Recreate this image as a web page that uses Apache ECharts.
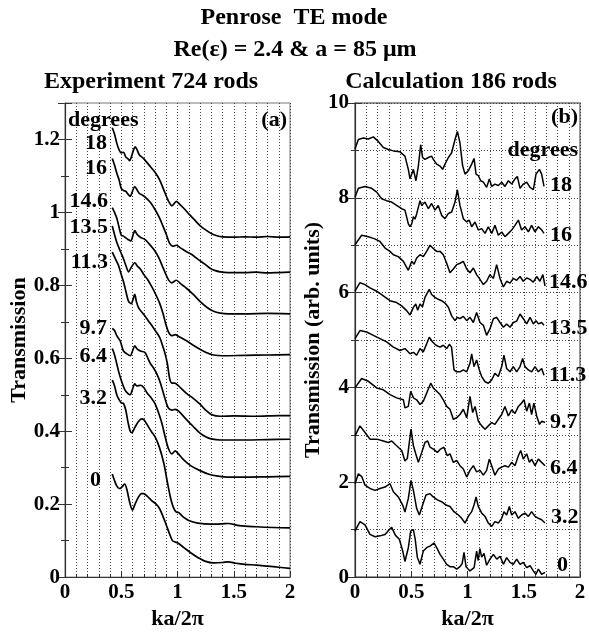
<!DOCTYPE html>
<html>
<head>
<meta charset="utf-8">
<script src="https://cdn.jsdelivr.net/npm/echarts@6/dist/echarts.min.js"></script>
<style>html,body{margin:0;padding:0;background:#fff}#c{width:589px;height:635px}</style>
</head>
<body>
<div id="c"></div>
<script>
// ---- Data ----
const angleLabels = ['18', '16', '14.6', '13.5', '11.3', '9.7', '6.4', '3.2', '0'];

// Panel (a): Experiment 724 rods  [ka/2pi, transmission]
const expDeg18 = [[0.42,1.232],[0.44,1.215],[0.46,1.19],[0.48,1.172],[0.50,1.163],[0.52,1.165],[0.54,1.152],[0.56,1.147],[0.575,1.142],[0.59,1.152],[0.61,1.172],[0.625,1.18],[0.64,1.172],[0.66,1.158],[0.69,1.15],[0.72,1.14],[0.76,1.125],[0.80,1.11],[0.84,1.09],[0.87,1.068],[0.90,1.045],[0.925,1.028],[0.95,1.018],[0.97,1.024],[0.99,1.03],[1.02,1.022],[1.06,1.01],[1.10,0.996],[1.15,0.98],[1.20,0.964],[1.25,0.952],[1.30,0.942],[1.35,0.936],[1.40,0.933],[1.5,0.932],[1.6,0.933],[1.7,0.932],[1.8,0.934],[1.9,0.932],[2.0,0.933]];
const expDeg16 = [[0.42,1.148],[0.44,1.13],[0.46,1.108],[0.48,1.09],[0.50,1.066],[0.52,1.06],[0.54,1.058],[0.56,1.05],[0.58,1.044],[0.60,1.058],[0.62,1.071],[0.64,1.062],[0.66,1.052],[0.69,1.047],[0.72,1.04],[0.76,1.027],[0.80,1.008],[0.84,0.985],[0.87,0.963],[0.90,0.94],[0.93,0.915],[0.96,0.907],[0.99,0.91],[1.03,0.902],[1.08,0.892],[1.13,0.884],[1.18,0.872],[1.24,0.859],[1.29,0.847],[1.33,0.841],[1.38,0.837],[1.45,0.835],[1.6,0.835],[1.7,0.836],[1.8,0.834],[1.9,0.835],[2.0,0.836]];
const expDeg146 = [[0.42,1.013],[0.44,1.0],[0.46,0.985],[0.48,0.96],[0.50,0.938],[0.52,0.935],[0.54,0.93],[0.56,0.926],[0.585,0.922],[0.605,0.938],[0.62,0.95],[0.64,0.94],[0.67,0.932],[0.71,0.926],[0.75,0.913],[0.79,0.898],[0.83,0.878],[0.86,0.857],[0.89,0.835],[0.92,0.815],[0.95,0.807],[0.99,0.814],[1.03,0.804],[1.08,0.792],[1.14,0.775],[1.2,0.756],[1.26,0.74],[1.32,0.729],[1.38,0.724],[1.45,0.722],[1.6,0.722],[1.8,0.723],[2.0,0.722]];
const expDeg135 = [[0.42,0.963],[0.44,0.94],[0.46,0.918],[0.49,0.895],[0.52,0.873],[0.54,0.855],[0.565,0.837],[0.59,0.85],[0.62,0.862],[0.645,0.852],[0.67,0.845],[0.70,0.83],[0.73,0.818],[0.77,0.797],[0.80,0.779],[0.84,0.752],[0.87,0.724],[0.895,0.695],[0.92,0.672],[0.95,0.662],[0.98,0.665],[1.01,0.66],[1.08,0.648],[1.14,0.636],[1.2,0.625],[1.26,0.615],[1.32,0.609],[1.4,0.607],[1.6,0.608],[1.8,0.609],[2.0,0.61]];
const expDeg113 = [[0.42,0.891],[0.44,0.878],[0.46,0.865],[0.475,0.855],[0.50,0.83],[0.52,0.81],[0.54,0.785],[0.565,0.756],[0.59,0.75],[0.605,0.762],[0.62,0.775],[0.635,0.755],[0.655,0.738],[0.70,0.72],[0.74,0.703],[0.785,0.684],[0.82,0.668],[0.845,0.655],[0.87,0.632],[0.89,0.612],[0.91,0.585],[0.93,0.545],[0.95,0.532],[0.975,0.532],[1.0,0.527],[1.08,0.504],[1.14,0.49],[1.2,0.474],[1.25,0.458],[1.3,0.446],[1.38,0.441],[1.5,0.442],[1.7,0.441],[1.9,0.443],[2.0,0.443]];
const expDeg97 = [[0.42,0.682],[0.44,0.676],[0.46,0.662],[0.49,0.648],[0.52,0.62],[0.55,0.612],[0.58,0.607],[0.60,0.62],[0.62,0.634],[0.64,0.626],[0.67,0.62],[0.71,0.616],[0.74,0.598],[0.76,0.585],[0.79,0.572],[0.815,0.558],[0.845,0.535],[0.875,0.504],[0.90,0.478],[0.92,0.463],[0.95,0.458],[0.98,0.46],[1.01,0.455],[1.08,0.432],[1.14,0.413],[1.2,0.395],[1.25,0.385],[1.3,0.379],[1.38,0.376],[1.6,0.376],[1.8,0.377],[2.0,0.378]];
const expDeg64 = [[0.42,0.627],[0.44,0.61],[0.46,0.585],[0.48,0.56],[0.50,0.54],[0.53,0.515],[0.56,0.503],[0.58,0.5],[0.60,0.515],[0.62,0.53],[0.64,0.524],[0.67,0.526],[0.70,0.52],[0.73,0.505],[0.77,0.49],[0.80,0.476],[0.83,0.452],[0.86,0.423],[0.89,0.385],[0.92,0.352],[0.95,0.338],[0.98,0.346],[1.01,0.337],[1.06,0.32],[1.12,0.305],[1.2,0.292],[1.28,0.282],[1.36,0.277],[1.45,0.274],[1.6,0.274],[1.8,0.275],[2.0,0.276]];
const expDeg32 = [[0.42,0.54],[0.44,0.525],[0.46,0.5],[0.48,0.487],[0.50,0.478],[0.52,0.476],[0.54,0.458],[0.56,0.425],[0.58,0.4],[0.595,0.396],[0.62,0.41],[0.65,0.425],[0.68,0.434],[0.70,0.432],[0.73,0.418],[0.77,0.398],[0.80,0.385],[0.84,0.355],[0.88,0.31],[0.91,0.26],[0.94,0.215],[0.965,0.19],[0.99,0.178],[1.01,0.177],[1.05,0.165],[1.1,0.155],[1.18,0.148],[1.3,0.145],[1.4,0.146],[1.45,0.147],[1.55,0.141],[1.7,0.138],[1.85,0.136],[2.0,0.135]];
const expDeg0 = [[0.42,0.283],[0.44,0.265],[0.46,0.25],[0.48,0.243],[0.50,0.245],[0.53,0.255],[0.55,0.24],[0.575,0.205],[0.60,0.184],[0.62,0.198],[0.65,0.218],[0.68,0.229],[0.70,0.229],[0.73,0.222],[0.77,0.21],[0.81,0.2],[0.84,0.188],[0.87,0.167],[0.90,0.143],[0.93,0.118],[0.955,0.1],[0.98,0.096],[1.0,0.094],[1.06,0.08],[1.12,0.066],[1.18,0.054],[1.25,0.043],[1.32,0.039],[1.4,0.04],[1.45,0.042],[1.52,0.038],[1.6,0.035],[1.7,0.033],[1.8,0.03],[1.9,0.027],[2.0,0.024]];

// Panel (b): Calculation 186 rods (curves offset vertically)  [ka/2pi, transmission]
const calcDeg18 = [[0,9.03],[0.03,9.23],[0.074,9.26],[0.119,9.24],[0.163,9.285],[0.207,9.19],[0.252,9.06],[0.296,9.02],[0.341,8.99],[0.4,8.97],[0.444,8.88],[0.474,8.6],[0.489,8.4],[0.504,8.43],[0.519,8.6],[0.542,8.36],[0.563,8.67],[0.584,9.12],[0.601,8.85],[0.622,8.81],[0.652,8.85],[0.681,8.88],[0.696,8.81],[0.726,8.71],[0.756,8.67],[0.779,8.6],[0.8,8.71],[0.83,8.85],[0.859,8.95],[0.889,9.23],[0.91,9.4],[0.933,9.16],[0.957,8.67],[0.978,8.5],[1.007,8.57],[1.037,8.71],[1.058,8.83],[1.076,8.5],[1.096,8.47],[1.117,8.36],[1.141,8.33],[1.17,8.22],[1.194,8.4],[1.215,8.24],[1.244,8.29],[1.274,8.26],[1.304,8.33],[1.333,8.24],[1.363,8.36],[1.393,8.29],[1.422,8.4],[1.443,8.45],[1.467,8.2],[1.496,8.29],[1.526,8.33],[1.556,8.22],[1.585,8.17],[1.609,8.5],[1.639,8.6],[1.659,8.5],[1.68,8.24]];
const calcDeg16 = [[0,8.01],[0.03,8.2],[0.089,8.24],[0.148,8.2],[0.193,8.12],[0.237,7.98],[0.281,7.94],[0.326,7.91],[0.37,7.84],[0.415,7.77],[0.444,7.74],[0.474,7.45],[0.489,7.39],[0.504,7.45],[0.519,7.6],[0.533,7.55],[0.548,7.66],[0.578,7.94],[0.593,7.84],[0.622,7.91],[0.652,7.77],[0.681,7.88],[0.711,7.74],[0.74,7.84],[0.77,7.63],[0.8,7.56],[0.83,7.67],[0.859,7.7],[0.889,7.91],[0.91,8.17],[0.933,7.84],[0.963,7.56],[0.993,7.49],[1.015,7.53],[1.037,7.39],[1.067,7.49],[1.096,7.32],[1.126,7.35],[1.156,7.25],[1.185,7.39],[1.215,7.25],[1.244,7.42],[1.274,7.21],[1.304,7.28],[1.333,7.18],[1.363,7.25],[1.393,7.32],[1.422,7.42],[1.452,7.53],[1.481,7.32],[1.511,7.39],[1.541,7.28],[1.57,7.42],[1.6,7.28],[1.63,7.39],[1.66,7.32],[1.68,7.25]];
const calcDeg146 = [[0,7.01],[0.059,7.21],[0.119,7.18],[0.17,7.14],[0.222,7.08],[0.267,6.94],[0.311,6.87],[0.341,6.8],[0.385,6.76],[0.43,6.66],[0.474,6.47],[0.504,6.66],[0.525,6.6],[0.548,6.73],[0.578,6.8],[0.607,6.76],[0.637,6.87],[0.667,7.0],[0.696,6.93],[0.726,6.87],[0.756,6.87],[0.785,6.8],[0.815,6.62],[0.844,6.42],[0.874,6.5],[0.904,6.59],[0.933,6.62],[0.963,6.66],[0.993,6.5],[1.022,6.42],[1.052,6.52],[1.081,6.38],[1.111,6.28],[1.141,6.17],[1.17,6.24],[1.2,6.38],[1.23,6.3],[1.259,6.59],[1.289,6.3],[1.319,6.12],[1.348,6.24],[1.378,6.2],[1.407,6.3],[1.437,6.26],[1.467,6.34],[1.496,6.24],[1.526,6.31],[1.556,6.28],[1.585,6.22],[1.615,6.34],[1.644,6.24],[1.67,6.38],[1.689,6.14]];
const calcDeg135 = [[0,6.03],[0.044,6.21],[0.089,6.17],[0.133,6.1],[0.193,6.03],[0.252,5.93],[0.311,5.83],[0.37,5.79],[0.415,5.72],[0.459,5.62],[0.489,5.53],[0.519,5.69],[0.54,5.76],[0.557,5.63],[0.578,5.76],[0.6,5.7],[0.622,5.9],[0.66,6.07],[0.681,5.96],[0.711,5.9],[0.74,5.86],[0.77,5.83],[0.8,5.78],[0.83,5.69],[0.859,5.51],[0.889,5.41],[0.91,5.48],[0.933,5.45],[0.963,5.5],[0.993,5.41],[1.022,5.48],[1.052,5.37],[1.081,5.58],[1.111,5.37],[1.141,5.31],[1.17,5.1],[1.2,5.24],[1.23,5.45],[1.259,5.48],[1.289,5.37],[1.319,5.27],[1.348,5.34],[1.378,5.27],[1.407,5.37],[1.437,5.4],[1.467,5.55],[1.496,5.45],[1.526,5.34],[1.556,5.48],[1.585,5.34],[1.609,5.41],[1.63,5.34],[1.659,5.37],[1.68,5.31]];
const calcDeg113 = [[0,5.03],[0.044,5.2],[0.104,5.17],[0.163,5.1],[0.222,5.03],[0.281,4.96],[0.341,4.85],[0.4,4.78],[0.444,4.82],[0.489,4.71],[0.52,4.74],[0.548,4.68],[0.578,4.82],[0.607,4.75],[0.637,4.92],[0.66,5.06],[0.69,4.96],[0.72,4.89],[0.756,4.85],[0.785,4.89],[0.815,4.82],[0.839,4.91],[0.858,4.85],[0.88,4.37],[0.904,4.33],[0.933,4.33],[0.963,4.37],[0.993,4.33],[1.022,4.51],[1.037,4.71],[1.058,4.44],[1.081,4.58],[1.105,4.37],[1.126,4.23],[1.156,4.12],[1.185,4.09],[1.215,4.16],[1.244,4.3],[1.274,4.23],[1.304,4.44],[1.324,4.68],[1.348,4.4],[1.378,4.33],[1.407,4.44],[1.437,4.33],[1.467,4.44],[1.49,4.61],[1.511,4.44],[1.541,4.37],[1.57,4.33],[1.6,4.44],[1.63,4.33],[1.659,4.4],[1.68,4.26]];
const calcDeg97 = [[0,3.99],[0.059,4.19],[0.119,4.13],[0.193,3.99],[0.252,3.95],[0.311,3.85],[0.37,3.78],[0.43,3.74],[0.444,3.57],[0.474,3.6],[0.495,3.92],[0.519,3.78],[0.548,3.74],[0.578,3.64],[0.607,3.71],[0.637,3.88],[0.673,4.09],[0.696,3.99],[0.726,3.92],[0.756,3.85],[0.785,3.74],[0.815,3.6],[0.844,3.54],[0.874,3.33],[0.904,3.36],[0.933,3.43],[0.963,3.54],[0.993,3.36],[1.022,3.81],[1.046,3.47],[1.067,3.6],[1.096,3.29],[1.126,3.19],[1.156,3.12],[1.185,3.19],[1.215,3.26],[1.244,3.22],[1.274,3.33],[1.304,3.43],[1.333,3.6],[1.363,3.4],[1.393,3.53],[1.422,3.45],[1.452,3.6],[1.481,3.67],[1.502,3.74],[1.526,3.5],[1.55,3.67],[1.57,3.43],[1.59,3.67],[1.615,3.4],[1.64,3.22],[1.66,3.29],[1.69,3.26]];
const calcDeg64 = [[0,2.98],[0.044,3.19],[0.089,3.05],[0.133,2.91],[0.193,2.91],[0.252,2.87],[0.296,2.84],[0.326,2.87],[0.37,2.77],[0.415,2.67],[0.444,2.45],[0.465,2.5],[0.483,2.84],[0.498,3.12],[0.519,2.77],[0.54,2.6],[0.563,2.42],[0.593,2.63],[0.622,2.84],[0.646,2.87],[0.667,2.74],[0.696,2.7],[0.732,2.63],[0.76,2.7],[0.79,2.74],[0.82,2.56],[0.844,2.6],[0.874,2.42],[0.904,2.46],[0.933,2.35],[0.963,2.28],[0.993,2.11],[1.022,2.25],[1.052,2.35],[1.081,2.22],[1.111,2.25],[1.141,2.15],[1.17,2.25],[1.194,2.49],[1.215,2.35],[1.244,2.15],[1.274,2.28],[1.304,2.32],[1.333,2.35],[1.363,2.32],[1.393,2.42],[1.422,2.35],[1.452,2.56],[1.473,2.67],[1.496,2.49],[1.526,2.6],[1.55,2.42],[1.57,2.49],[1.6,2.35],[1.63,2.49],[1.659,2.42],[1.689,2.35]];
const calcDeg32 = [[0,1.97],[0.03,2.18],[0.06,2.12],[0.089,1.94],[0.133,1.87],[0.178,1.83],[0.222,1.87],[0.267,1.9],[0.311,1.97],[0.341,1.8],[0.385,1.69],[0.424,1.52],[0.444,1.37],[0.474,1.66],[0.498,2.04],[0.519,1.83],[0.548,1.45],[0.572,1.31],[0.601,1.52],[0.631,1.73],[0.667,1.76],[0.696,1.69],[0.732,1.63],[0.77,1.59],[0.809,1.52],[0.844,1.49],[0.88,1.38],[0.919,1.31],[0.948,1.24],[0.978,1.14],[1.007,1.28],[1.037,1.38],[1.058,1.52],[1.076,1.69],[1.096,1.49],[1.126,1.35],[1.156,1.28],[1.185,1.14],[1.215,1.07],[1.244,1.17],[1.274,1.14],[1.304,1.24],[1.324,1.38],[1.348,1.31],[1.372,1.49],[1.393,1.31],[1.422,1.38],[1.452,1.24],[1.481,1.31],[1.511,1.35],[1.541,1.28],[1.57,1.38],[1.6,1.28],[1.63,1.24],[1.659,1.21],[1.689,1.14]];
const calcDeg0 = [[0,0.97],[0.044,1.17],[0.089,1.1],[0.133,0.9],[0.178,0.85],[0.222,0.87],[0.267,0.9],[0.296,0.98],[0.326,1.05],[0.36,0.88],[0.394,0.8],[0.424,0.55],[0.444,0.33],[0.474,0.62],[0.495,0.97],[0.519,1.0],[0.535,0.8],[0.554,0.42],[0.578,0.27],[0.607,0.55],[0.637,0.62],[0.67,0.66],[0.702,0.72],[0.726,0.62],[0.756,0.48],[0.785,0.38],[0.815,0.27],[0.844,0.22],[0.874,0.22],[0.904,0.17],[0.933,0.22],[0.952,0.28],[0.969,0.52],[0.987,0.22],[1.022,0.13],[1.059,0.2],[1.081,0.55],[1.095,0.35],[1.11,0.6],[1.126,0.42],[1.147,0.5],[1.17,0.25],[1.2,0.38],[1.23,0.48],[1.26,0.38],[1.29,0.44],[1.319,0.27],[1.348,0.41],[1.378,0.31],[1.407,0.27],[1.437,0.38],[1.467,0.27],[1.496,0.31],[1.526,0.2],[1.556,0.24],[1.585,0.13],[1.609,0.06],[1.63,0.17],[1.659,0.06],[1.69,0.1]];

const expCurves = [expDeg18, expDeg16, expDeg146, expDeg135, expDeg113, expDeg97, expDeg64, expDeg32, expDeg0];
const calcCurves = [calcDeg18, calcDeg16, calcDeg146, calcDeg135, calcDeg113, calcDeg97, calcDeg64, calcDeg32, calcDeg0];

// ---- Styling / layout ----
const FONT = 'Liberation Serif';
const tickText = {fontFamily: FONT, fontWeight: 'bold', fontSize: 21, color: '#000'};
const nameText = {fontFamily: FONT, fontWeight: 'bold', fontSize: 22, color: '#000'};
const dotted = {type: [1, 2], color: '#444', width: 1};

function xAxisFor(gi) {
  return {
    type: 'value', gridIndex: gi, min: 0, max: 2, interval: 0.5,
    axisLine: {show: true, onZero: false, lineStyle: {color: '#333', width: 1.2}},
    axisTick: {show: true, inside: true, length: 6, lineStyle: {color: '#333'}},
    minorTick: {show: true, splitNumber: 5, length: 3, lineStyle: {color: '#333'}},
    splitLine: {show: true, lineStyle: dotted},
    minorSplitLine: {show: true, lineStyle: dotted},
    axisLabel: Object.assign({margin: 5}, tickText),
    name: 'ka/2π', nameLocation: 'middle', nameGap: 27, nameTextStyle: nameText
  };
}

const option = {
  animation: false,
  backgroundColor: '#fff',
  grid: [
    {left: 65, right: 299, top: 103, bottom: 52, show: true, borderColor: '#777', borderWidth: 1},
    {left: 355, right: 9, top: 103, bottom: 52, show: true, borderColor: '#777', borderWidth: 1.5}
  ],
  xAxis: [xAxisFor(0), xAxisFor(1)],
  yAxis: [
    {
      type: 'value', gridIndex: 0, min: 0, max: 1.3, interval: 0.2, position: 'left',
      axisLine: {show: true, onZero: false, lineStyle: {color: '#333', width: 1.2}},
      axisTick: {show: true, inside: true, length: 7, lineStyle: {color: '#333'}},
      minorTick: {show: true, splitNumber: 2, length: 4, lineStyle: {color: '#333'}},
      splitLine: {show: false},
      axisLabel: Object.assign({margin: 5, formatter: v => (v > 1.25 ? '' : String(+v.toFixed(1)))}, tickText),
      name: 'Transmission', nameLocation: 'middle', nameGap: 34, nameTextStyle: nameText
    },
    {
      type: 'value', gridIndex: 0, min: 0, max: 1.3, interval: 0.2, position: 'right',
      axisLine: {show: false}, axisLabel: {show: false}, splitLine: {show: false},
      axisTick: {show: true, inside: true, length: 7, lineStyle: {color: '#333'}},
      minorTick: {show: true, splitNumber: 2, length: 4, lineStyle: {color: '#333'}}
    },
    {
      type: 'value', gridIndex: 1, min: 0, max: 10, interval: 2, position: 'left',
      axisLine: {show: true, onZero: false, lineStyle: {color: '#333', width: 1.2}},
      axisTick: {show: true, inside: true, length: 7, lineStyle: {color: '#333'}},
      minorTick: {show: true, splitNumber: 2, length: 4, lineStyle: {color: '#333'}},
      splitLine: {show: true, lineStyle: dotted},
      minorSplitLine: {show: true, lineStyle: dotted},
      axisLabel: Object.assign({margin: 6}, tickText),
      name: 'Transmission (arb. units)', nameLocation: 'middle', nameGap: 26, nameTextStyle: nameText
    },
    {
      type: 'value', gridIndex: 1, min: 0, max: 10, interval: 2, position: 'right',
      axisLine: {show: false}, axisLabel: {show: false}, splitLine: {show: false},
      axisTick: {show: true, inside: true, length: 7, lineStyle: {color: '#333'}},
      minorTick: {show: true, splitNumber: 2, length: 4, lineStyle: {color: '#333'}}
    }
  ],
  series: [].concat(
    expCurves.map((d, i) => ({
      name: 'exp ' + angleLabels[i], type: 'line', xAxisIndex: 0, yAxisIndex: 0,
      data: d, showSymbol: false, symbol: 'none', smooth: 0.3,
      lineStyle: {color: '#000', width: 1.7}, z: 5
    })),
    calcCurves.map((d, i) => ({
      name: 'calc ' + angleLabels[i], type: 'line', xAxisIndex: 1, yAxisIndex: 2,
      data: d, showSymbol: false, symbol: 'none', smooth: false,
      lineStyle: {color: '#000', width: 1.5}, z: 5
    }))
  ),
  graphic: []
};

function txt(x, y, s, size, align) {
  return {type: 'text', x: x, y: y, z: 20, silent: true,
    style: {text: s, fontFamily: FONT, fontWeight: 'bold', fontSize: size, fill: '#000',
      align: align || 'center', verticalAlign: 'middle'}};
}
const g = option.graphic;
g.push(txt(294, 18, 'Penrose  TE mode', 24));
g.push(txt(295, 50, 'Re(\u03b5) = 2.4 & a = 85 \u03bcm', 24));
g.push(txt(151, 82, 'Experiment 724 rods', 24));
g.push(txt(451, 82, 'Calculation 186 rods', 24));
// panel (a) annotations
g.push(txt(68, 120, 'degrees', 22, 'left'));
g.push(txt(287, 120, '(a)', 22, 'right'));
const expLabelPos = [[107,143],[107,168],[108,201],[108,227],[108,262],[107,328],[107,356],[107,398],[101,480]];
expLabelPos.forEach((p, i) => g.push(txt(p[0], p[1], angleLabels[i], 22, 'right')));
// panel (b) annotations
g.push(txt(578, 117, '(b)', 22, 'right'));
g.push(txt(578, 150, 'degrees', 22, 'right'));
const calcLabelPos = [[550,185],[550,235],[549,282],[549,328],[549,375],[550,422],[550,468],[551,517],[557,565]];
calcLabelPos.forEach((p, i) => g.push(txt(p[0], p[1], angleLabels[i], 22, 'left')));

const chart = echarts.init(document.getElementById('c'), null, {renderer: 'canvas'});
chart.setOption(option);
</script>
</body>
</html>
